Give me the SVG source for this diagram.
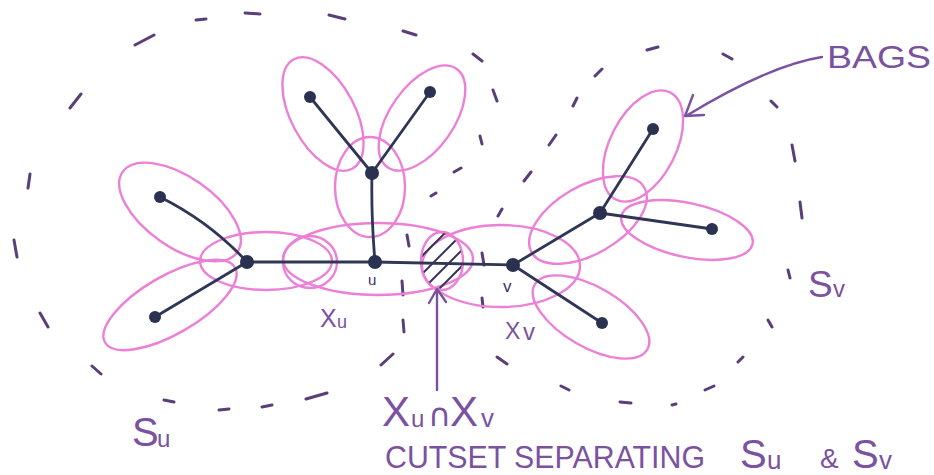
<svg xmlns="http://www.w3.org/2000/svg" width="934" height="475" viewBox="0 0 934 475">
<style>
.bag{fill:none;stroke:#ec7fd6;stroke-width:2.4}
.edge{fill:none;stroke:#2f3656;stroke-width:2.8;stroke-linecap:round}
.node{fill:#2b3150}
.dash{fill:none;stroke:#5a3e7a;stroke-width:3;stroke-linecap:round}
.lbl{fill:#7a52a0;font-family:"Liberation Sans","DejaVu Sans",sans-serif}
.pen{fill:none;stroke:#7a52a0;stroke-width:2.4;stroke-linecap:round;stroke-linejoin:round}
.hatch{stroke:#3a3558;stroke-width:2;stroke-linecap:round}
</style>
<defs>
<clipPath id="hc"><ellipse cx="442" cy="261" rx="20" ry="28"/></clipPath>
</defs>
<rect width="934" height="475" fill="#ffffff"/>

<g id="regions">
<g id="Su-boundary">
<path class="dash" d="M70,108 L81,94 M30,174 L28,188 M135,45 L154,35 M196,20 L206,19 M245,13 L260,14 M329,15 L345,19 M403,31 L416,35 M473,54 L482,61 M493,90 L497,101 M480,136 L482,144 M454,172 L461,168 M431,196 L436,193 M407,235 L409,246 M402,281 L403,295 M403,320 L404,332 M381,365 L393,354 M306,399 L327,393 M262,407 L272,405 M219,410 L229,409 M164,400 L174,402 M92,366 L101,374 M40,313 L48,327 M14,240 L17,257"/>
</g>
<g id="Sv-boundary">
<path class="dash" d="M498,216 L502,209 M524,181 L531,172 M549,145 L556,135 M573,106 L577,98 M595,76 L602,69 M647,50 L658,47 M723,54 L732,59 M771,101 L777,107 M792,145 L795,161 M800,202 L802,218 M788,270 L790,278 M768,320 L772,327 M738,362 L743,357 M705,390 L714,386 M672,405 L676,404 M620,402 L631,403 M561,386 L569,390 M497,357 L507,364 M482,298 L483,307 M482,253 L484,265"/>
</g>
</g>

<g id="bags">
<ellipse id="bag-left-upper" class="bag" cx="180" cy="212" rx="70" ry="35" transform="rotate(35 180 212)"/>
<ellipse id="bag-left-lower" class="bag" cx="170" cy="305" rx="75" ry="29" transform="rotate(-30 170 305)"/>
<ellipse id="bag-left-hub" class="bag" cx="266" cy="261" rx="66" ry="29"/>
<ellipse id="bag-circle" class="bag" cx="310" cy="262" rx="27" ry="26"/>
<ellipse id="bag-Xu" class="bag" cx="378" cy="259" rx="95" ry="36"/>
<ellipse id="bag-cut" class="bag" cx="442" cy="261" rx="21" ry="29"/>
<ellipse id="bag-Xv" class="bag" cx="501" cy="266" rx="79" ry="41"/>
<ellipse id="bag-up-hub" class="bag" cx="370" cy="187" rx="35" ry="50"/>
<ellipse id="bag-up-left" class="bag" cx="323" cy="114" rx="62" ry="32" transform="rotate(62 323 114)"/>
<ellipse id="bag-up-right" class="bag" cx="422" cy="118" rx="60" ry="32" transform="rotate(-55 422 118)"/>
<ellipse id="bag-v-hub" class="bag" cx="588" cy="220" rx="65" ry="34" transform="rotate(-30 588 220)"/>
<ellipse id="bag-right-top" class="bag" cx="643" cy="146" rx="60" ry="33" transform="rotate(-63 643 146)"/>
<ellipse id="bag-right-mid" class="bag" cx="687" cy="230" rx="67" ry="27" transform="rotate(12 687 230)"/>
<ellipse id="bag-right-low" class="bag" cx="591" cy="317" rx="65" ry="30" transform="rotate(30 591 317)"/>
<g clip-path="url(#hc)">
<path class="hatch" d="M420,258 L452,226 M424,272 L458,238 M426,286 L462,250 M432,296 L464,264"/>
</g>
</g>

<g id="connectors">
<path class="edge" d="M160,197 Q210,222 247,262"/>
<path class="edge" d="M155,317 L247,262"/>
<path class="edge" d="M247,262 L375,262"/>
<path class="edge" d="M375,262 Q371,215 372,173"/>
<path class="edge" d="M372,173 L310,97"/>
<path class="edge" d="M372,173 L430,92"/>
<path class="edge" d="M375,262 L513,265"/>
<path class="edge" d="M513,265 L600,213"/>
<path class="edge" d="M600,213 L653,129"/>
<path class="edge" d="M600,213 L712,229"/>
<path class="edge" d="M513,265 L602,323"/>
</g>

<g id="node-left-upper-leaf"><circle class="node" cx="160" cy="197" r="6"/></g>
<g id="node-left-lower-leaf"><circle class="node" cx="155" cy="317" r="6"/></g>
<g id="node-left-hub"><circle class="node" cx="247" cy="262" r="7"/></g>
<g id="node-u"><circle class="node" cx="375" cy="262" r="7"/>
<text x="368" y="285" font-size="15" fill="#3e3068" font-family="Liberation Sans, sans-serif">u</text></g>
<g id="node-up-hub"><circle class="node" cx="372" cy="173" r="7"/></g>
<g id="node-up-left-leaf"><circle class="node" cx="310" cy="97" r="6"/></g>
<g id="node-up-right-leaf"><circle class="node" cx="430" cy="92" r="6"/></g>
<g id="node-v"><circle class="node" cx="513" cy="265" r="7"/>
<text x="503" y="292" font-size="17" fill="#3e3068" font-family="Liberation Sans, sans-serif">v</text></g>
<g id="node-right-hub"><circle class="node" cx="600" cy="213" r="7"/></g>
<g id="node-right-top-leaf"><circle class="node" cx="653" cy="129" r="6"/></g>
<g id="node-right-mid-leaf"><circle class="node" cx="712" cy="229" r="6"/></g>
<g id="node-right-low-leaf"><circle class="node" cx="602" cy="323" r="6"/></g>

<g id="annotations">
<path class="pen" d="M437,390 L437,290 M429,303 L437,289 L446,302"/>
<path class="pen" d="M822,57 C790,62 745,80 686,116 M693,95 L685,116 L704,115"/>
<text class="lbl" x="827" y="68" font-size="31" textLength="104" lengthAdjust="spacingAndGlyphs">BAGS</text>
<text class="lbl" x="320" y="327" font-size="25">X</text>
<text class="lbl" x="337" y="328" font-size="18">u</text>
<text class="lbl" x="505" y="339" font-size="23">X</text>
<text class="lbl" x="523" y="340" font-size="24">v</text>
<text class="lbl" x="808" y="297" font-size="37">S</text>
<text class="lbl" x="833" y="297" font-size="24">v</text>
<text class="lbl" x="132" y="446" font-size="40">S</text>
<text class="lbl" x="157" y="447" font-size="24">u</text>
<text class="lbl" x="382" y="426" font-size="42">X</text>
<text class="lbl" x="411" y="427" font-size="24">u</text>
<text class="lbl" x="428" y="426" font-size="32" style="font-family:'DejaVu Sans',sans-serif">∩</text>
<text class="lbl" x="450" y="426" font-size="42">X</text>
<text class="lbl" x="481" y="427" font-size="26">v</text>
<text class="lbl" x="385" y="468" font-size="32" textLength="320" lengthAdjust="spacingAndGlyphs">CUTSET SEPARATING</text>
<text class="lbl" x="740" y="468" font-size="40">S</text>
<text class="lbl" x="767" y="469" font-size="26">u</text>
<text class="lbl" x="820" y="468" font-size="28">&amp;</text>
<text class="lbl" x="852" y="468" font-size="40">S</text>
<text class="lbl" x="879" y="469" font-size="26">v</text>
</g>
</svg>
